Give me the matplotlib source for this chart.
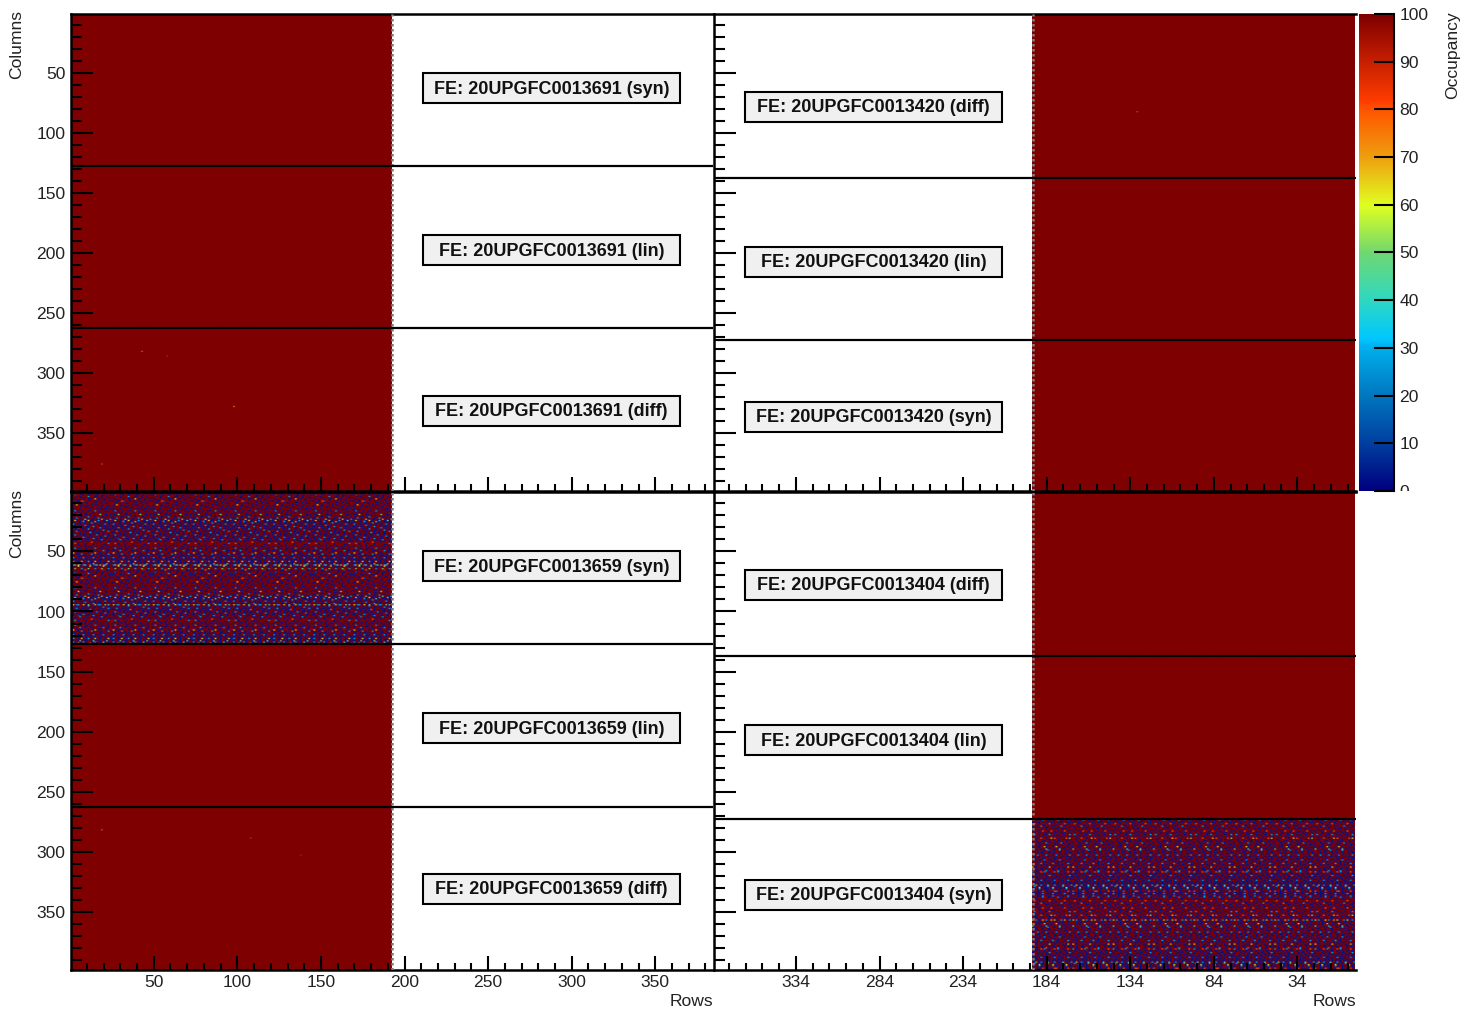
import matplotlib
matplotlib.use("Agg")
import matplotlib.pyplot as plt
import numpy as np
from matplotlib.colors import LinearSegmentedColormap
from matplotlib.patches import Rectangle
from matplotlib.ticker import MultipleLocator
from matplotlib.transforms import Bbox, TransformedBbox

plt.rcParams["font.family"] = ["Liberation Sans", "DejaVu Sans"]

W, H = 1465, 1011

# module serials, top left / top right / bottom left / bottom right
fe_top_left = "20UPGFC0013691"
fe_top_right = "20UPGFC0013420"
fe_bottom_left = "20UPGFC0013659"
fe_bottom_right = "20UPGFC0013404"
flavours_left = ["syn", "lin", "diff"]
flavours_right = ["diff", "lin", "syn"]

x_ticks_left = [50, 100, 150, 200, 250, 300, 350]
x_ticks_right = [334, 284, 234, 184, 134, 84, 34]
y_ticks = [50, 100, 150, 200, 250, 300, 350]
cbar_ticks = [0, 10, 20, 30, 40, 50, 60, 70, 80, 90, 100]

# chip boundaries in columns
bounds_left = [127, 262.5]
bounds_right = [137, 272.5]
rows_enabled = 192
n_columns = 399

# isolated pixels below 100 %: (row, column, occupancy)
hot_top_left = [(42, 281, 80), (97, 327, 78), (18, 375, 82), (57, 285, 90)]
hot_top_right = [(129, 81, 84)]
hot_bottom_left = [(18, 281, 80), (107, 288, 88), (137, 302, 90)]

# colour scale: (occupancy, colour)
scale_colours = [
    (0, "#000080"), (10, "#0040a0"), (20, "#0078c0"), (30, "#00b0ee"), (32, "#00c8ff"),
    (40, "#30d8c0"), (50, "#70d870"), (60, "#e0ff20"), (70, "#eea010"), (80, "#ff5500"),
    (82, "#ff3c00"), (90, "#c82000"), (100, "#7f0000"),
]
occupancy_cmap = LinearSegmentedColormap.from_list(
    "occupancy", [(v / 100, c) for v, c in scale_colours], N=512
)

# Noisy syn flavour. There are far too many pixels to list, so these are small
# patches estimated by eye from zoomed crops and repeated over the chip area.
# . full  b/B blue  c cyan  g green  y yellow  o orange
cell_values = {".": 100, "b": 3, "B": 14, "c": 28, "g": 50, "y": 65, "o": 80}
patch_syn_left = """
..bb..b.c..bb...b..B.bb.
b....bb...b..b.bb....b..
.bB....b..bb...b..bb...b
...b.b....c...bb..b..b..
bb...bb.b...bb....b...bb
..b....b..bb..y.bb..b...
.b.bb.....b....b...bb..b
b...b.oB...b.b...b....b.
..bb...b.b....bb..b.b...
.....b...bb.b....b...bb.
.b.y..b.....b.bb...b....
bb...bb.b.b.....b.b..bb.
...b....bb..bb....b.....
.b...b.....b...b.b..bb.b
b..bb..b.b...b....bb....
.bc...b...bb..c.b...b.b.
..b.b....b..b....b...b..
b....bb.b....bb.b..b....
.bb.g...bb.b.....g..bb.b
...b..b....b.bb.b....b..
.b...bb.b.c...b...bb...b
bb.c.....bb..b..c...b...
..bb.bb.g...bb.b.bg..bbc
b.yb.b.Bb.ybb..bc..bbgb.
.bb.bb.cb.bb.bgb..bbb.b.
bb...b.bb...c.b.bb..b.bb
.cb.bb..b.bb..b...b.c.b.
..b...b.c..b.bb.bb..b..b
bb.b.bb..bb..c...b.bb.b.
.b..c..b.b..b.bb.c...b..
b.bb..bb.bc...b..b.bb.bb
..b.b...b..b.bb.b..c..b.
.b.cb.bb.bb..b...bb.b.cb
bb...b..b..c.b.bb..b....
..b.bb.b.bb..b..b.bb.bb.
b.c..b.bb..bb.bc...b..b.
.b.b...b.b.b...b.bb.c.b.
bb..bb.c..b.bb...b..bb..
.b.bB..b.bb..c.b.bb..b.b
..b..c...b..bb.b..c.b...
b.bb.b.bb.b...b.bb.b..bb
.......b....o....b....b.
..c.b....b...b.b......c.
....b...b....b.....bb...
.b...bb.b..bb..b.b...b..
b..b....b.b...b...bb..b.
..c.bb...b..b.c..b...b..
.b....b.bb.b....b.bb..b.
bb.b.c..b...bb.b...c.bb.
...b.bb...b.b...bb...b..
.y..b.....b...y..b...b..
b..bb.c.b...cb.bb.b.b.cb
.bb..b.bb.b..b...bb..b..
b...bb...b.bb..b.b.bb.b.
.cb.b..cb.b..cb.b..cb...
bbb..bb.bb.b.bb..bb.b.bb
.b.bb.b..b.bb.b.bb.b..b.
bc..b.yb.bc.b.yb.b..b.yb
.b.bb..b.b.bb..b.b.bb..b
bb..bgb.bb..bgb.bb..bgb.
.cb..b.cb...b.c..b.cb.b.
b.b.yb.b.b.yb.bb.b.yb.b.
.b..b...b.b..b.b..b...b.
..g...c...g...c...g...c.
"""
patch_syn_right = """
.bB..b..c..b.bb..cb.b...
b..b..bb..b...b..b...bb.
.bb...b.b..bb..b...bb..b
....o.....b..o.....b..o.
.b.bb..b.b..b.b.bb...b..
b...b.c...bb....b.c.b..b
.bb...b.b...b.bb....b.b.
...b.b..bb.b...b.b....b.
bb...bb...b..b....bb.b..
..b.o...b...o.b..o..b..b
.b..bb.b.bb...b.b..b..b.
b.b...b....bb..b..bb....
.c..bb..b.b..c.bb...b.c.
..b....b.b...b...b.b..b.
bb..b.b...bb...b.b...b..
.ybo....b.o.y..b..o.b...
b...bb.b...b.bb...b..bb.
.b.b...bb.b..b..bb...b..
..bb.b...b...bb...b.b..b
b....bc.b.b.b..c.b.bb...
.bb.b....bb...bb...b...b
..b..bb.b..b.b..b.bb.b..
b..b...b.y.b...by..bb..b
.bb.bb..b...bb.b...b.b..
b...b.bgb.b...bgb.b...bg
..bb...c..bb..c.b.b.b...
.b..b.b.b....bb..b...bb.
bb.b...b..bb.b...bb.b...
...bb.b..b...b.bb...b.b.
.c.....b.c.b...c.b..c..b
b.bb.b...b.b.bb..b.b..b.
.b..b.bb..b...b.b..bb.b.
bb.b...b.bb.b...bb...b..
..b.bb.c..b..bb.c.bb..b.
.b...b..b..bb...b..b.bb.
b.bb..b.b.b...b.b...b...
..c.b...bb.c.b...bc..b.b
bb...bb.b...b..bb.b.b...
...b...b.bb.b.b...b..bb.
.byb.b....b..yb.b....b.y
b...bb.bb..b...b.bb.b...
.bb.b...b.bb.b...bb..b.b
b...b.b.c.b...bc.b..bb..
..o..b..c.o..b..c.o..b.c
.b.bb..bb.b..bb.b..bb.b.
bb..b.b...bb.b..b.b..bb.
.c.b..bb.b...c.b.b.b...b
b.bb.b..bb.b..bb..b.bb.b
.b..bb.b..b.bb.b.b..b...
bb.b...bb.bb...bb.b.b.bb
..cb.bb...cb.bb.b.cb.b..
b.b..b.bb.b..b.bb.b..bb.
bb.bb.b.b.bb.b.b.bb.b.b.
.b.b.bb.bb.b.bb.b.b.b.bb
c.b..gb.b.cb..gb.bcb.gb.
b.bb.c.bb.b.b.cbb.b.b.c.
.b.yb..b.b.yb..b.bbyb..b
bb.cb.bb.b.cb.bbb..cb.b.
.b.b...b.bb....b.bb.b..b
b.ob.b.b.oo.b.bb.ob.b..o
.b..b.bb.b.bb.b..b.bb.bb
bbb.c..bb.bc.bbb.c.bbb.c
.b.bb.b..bb.b..b.bb.b.b.
b.c..b.bb..c.bb..c.bb..b
"""
# columns where the reference shows a brighter streak: column -> repeating cells
streaks_left = {61: "..g.y...g..c...g.y..g...", 94: ".y.c...y..g...y.c...y.g."}
streaks_right = {356: ".c..y.c...y.g..c.y...c.y"}


def patch_to_array(patch):
    return np.array([[cell_values[c] for c in line] for line in patch.split()], dtype=float)


def build_occupancy(hot, noise_patch=None, first_col=0, last_col=0, streaks=None):
    occ = np.full((n_columns, rows_enabled), 100.0)
    if noise_patch is not None:
        p = patch_to_array(noise_patch)
        h = last_col - first_col
        tiled = np.tile(p, (h // p.shape[0] + 1, rows_enabled // p.shape[1] + 1))
        occ[first_col:last_col, :] = tiled[:h, :rows_enabled]
    for col, cells in (streaks or {}).items():
        line = np.tile([cell_values[c] for c in cells], rows_enabled // len(cells) + 1)[:rows_enabled]
        occ[col, line < 100] = line[line < 100]
    for r, c, v in hot:
        occ[c, r] = v
    return occ


def px_rect(x0, y0, x1, y1):
    return [x0 / W, 1 - y1 / H, (x1 - x0) / W, (y1 - y0) / H]


def style_axes(ax, xlim, xticks, show_x, show_y, ylim=(398.5, 0.5)):
    ax.set_xlim(*xlim)
    ax.set_ylim(*ylim)
    ax.set_xticks(xticks)
    ax.set_yticks(y_ticks)
    ax.xaxis.set_minor_locator(MultipleLocator(10, offset=xticks[0] % 10))
    ax.yaxis.set_minor_locator(MultipleLocator(10))
    ax.tick_params(axis="x", which="major", direction="in", length=10, width=1.5,
                   labelsize=12.6, labelbottom=show_x, pad=3.5, labelcolor="#222222")
    ax.tick_params(axis="x", which="minor", direction="in", length=5, width=1.5)
    ax.tick_params(axis="y", which="major", direction="in", length=16, width=1.5,
                   labelsize=12.6, labelleft=show_y, pad=4, labelcolor="#222222")
    ax.tick_params(axis="y", which="minor", direction="in", length=8, width=1.5)
    for side in ["top", "left", "bottom"]:
        ax.spines[side].set_linewidth(1.8)
    ax.spines["right"].set_visible(False)


def add_labels(fig, serial, flavours, x_mid, y_mids):
    for flavour, y_mid in zip(flavours, y_mids):
        fig.add_artist(Rectangle(((x_mid - 128.5) / W, 1 - (y_mid + 15) / H), 257 / W, 30 / H,
                                 transform=fig.transFigure, facecolor="#f0f0f0",
                                 edgecolor="black", linewidth=1.5, zorder=10))
        fig.text(x_mid / W, 1 - (y_mid - 1) / H, f"FE: {serial} ({flavour})", ha="center",
                 va="center_baseline", fontsize=13.0, fontweight="bold", color="#111111", zorder=11)


fig = plt.figure(figsize=(W / 100, H / 100), dpi=100)

pads = [
    (px_rect(71, 14, 713, 491), build_occupancy(hot_top_left), bounds_left, "left", False),
    (px_rect(714, 14, 1356, 491), build_occupancy(hot_top_right), bounds_right, "right", False),
    (px_rect(71, 492, 713, 970), build_occupancy(hot_bottom_left, patch_syn_left, 1, 127, streaks_left),
     bounds_left, "left", True),
    (px_rect(714, 492, 1356, 970), build_occupancy([], patch_syn_right, 273, 399, streaks_right),
     bounds_right, "right", True),
]

for rect, occ, bounds, side, bottom in pads:
    ax = fig.add_axes(rect)
    if side == "left":
        xlim = (0.5, 384.5)
        extent = (0.5, rows_enabled + 0.5, n_columns + 0.5, 0.5)
        ticks = x_ticks_left
        image = occ
        edge = rows_enabled + 0.3
    else:
        xlim = (383.0, -1.0)
        extent = (rows_enabled + 0.5, 0.5 - 1, n_columns + 0.5, 0.5)
        ticks = x_ticks_right
        image = occ[:, ::-1]
        edge = rows_enabled + 0.3
    ax.imshow(image, cmap=occupancy_cmap, vmin=0, vmax=100, aspect="auto", extent=extent,
              interpolation="bilinear", zorder=1)
    ax.axvline(edge, color="#808080", linestyle=(0, (1, 1)), linewidth=1.8, zorder=3)
    for b in bounds:
        ax.axhline(b, color="black", linewidth=1.6, zorder=4)
    style_axes(ax, xlim, ticks, bottom, side == "left")

add_labels(fig, fe_top_left, flavours_left, 551.5, [88, 250, 411])
add_labels(fig, fe_bottom_left, flavours_left, 551.5, [566, 728, 889])
add_labels(fig, fe_top_right, flavours_right, 873.5, [107, 262, 417])
add_labels(fig, fe_bottom_right, flavours_right, 873.5, [585, 740, 895])

# colour scale
cax = fig.add_axes(px_rect(1359, 14, 1394, 491))
scale = np.linspace(100, 0, 256).reshape(-1, 1)
cax.imshow(scale, cmap=occupancy_cmap, vmin=0, vmax=100, aspect="auto", extent=(0, 1, 0, 100))
cax.set_xticks([])
cax.yaxis.tick_right()
cax.set_yticks(cbar_ticks)
cax.tick_params(axis="y", direction="in", length=14.4, width=1.5, labelsize=12.6, pad=4,
                labelcolor="#222222")
for side in ["top", "left", "bottom"]:
    cax.spines[side].set_visible(False)
cax.spines["right"].set_linewidth(1.5)
clip = TransformedBbox(Bbox([[0, 1 - 491 / H], [1, 1]]), fig.transFigure)
for lab in cax.get_yticklabels():
    lab.set_clip_box(clip)
    lab.set_clip_on(True)

fig.text(1453 / W, 1 - 11 / H, "Occupancy", rotation=90, ha="center", va="top", fontsize=12.6, color="#222222")
fig.text(17 / W, 1 - 10 / H, "Columns", rotation=90, ha="center", va="top", fontsize=12.6, color="#222222")
fig.text(17 / W, 1 - 489 / H, "Columns", rotation=90, ha="center", va="top", fontsize=12.6, color="#222222")
fig.text(713 / W, 1 - 1001 / H, "Rows", ha="right", va="center", fontsize=12.6, color="#222222")
fig.text(1356 / W, 1 - 1001 / H, "Rows", ha="right", va="center", fontsize=12.6, color="#222222")

fig.savefig("out.png", dpi=100)
